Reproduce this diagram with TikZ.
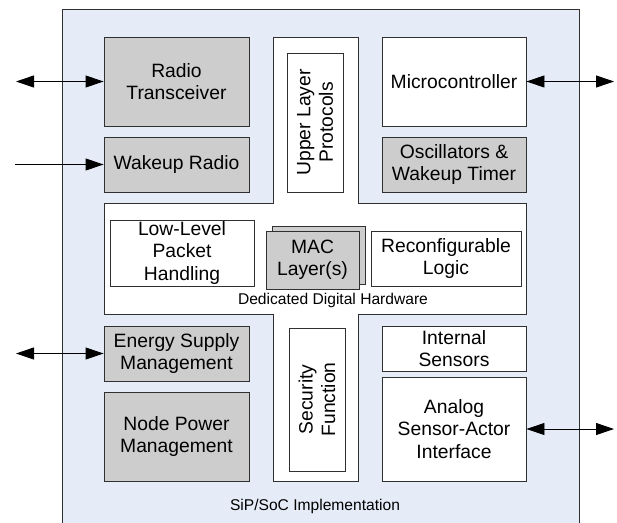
\documentclass[tikz,border=0pt]{standalone}
\usepackage{fontspec}
\setmainfont{Liberation Sans}
\usetikzlibrary{arrows.meta}
\definecolor{bgblue}{HTML}{E6ECF7}
\definecolor{boxgray}{HTML}{CDCDCD}
\definecolor{edge}{HTML}{303030}
\tikzset{
  blk/.style={draw=edge, line width=0.9pt, align=center, inner sep=0pt,
    font=\fontsize{19.3}{22.5}\selectfont, text=black},
  gblk/.style={blk, fill=boxgray},
  wblk/.style={blk, fill=white},
  rtxt/.style={rotate=90, align=center, inner sep=0pt, font=\fontsize{19.3}{22.5}\selectfont},
  lbl/.style={font=\fontsize{15.6}{18}\selectfont, inner sep=0pt},
  conn/.style={line width=0.9pt, draw=black},
  both/.style={conn, {Triangle[length=18pt, width=12pt]}-{Triangle[length=18pt, width=12pt]}},
  one/.style={conn, -{Triangle[length=18pt, width=12pt]}}
}
\begin{document}
\begin{tikzpicture}[x=1pt, y=-1pt]
\useasboundingbox (0,0) rectangle (617,522);
\clip (0,0) rectangle (617,522);
% outer SiP/SoC box
\draw[fill=bgblue, draw=edge, line width=0.9pt] (62,9) rectangle (579,540);
% cross-shaped digital hardware area
\draw[fill=white, draw=edge, line width=0.9pt]
  (273,37) -- (358,37) -- (358,203) -- (526,203) -- (526,314) -- (358,314)
  -- (358,481) -- (273,481) -- (273,314) -- (104,314) -- (104,203) -- (273,203) -- cycle;
% left column
\node[gblk, minimum width=145pt, minimum height=89pt] (rt) at (176.5,81.5) {Radio\\Transceiver};
\node[gblk, minimum width=145pt, minimum height=55pt] (wr) at (176.5,164.5) {Wakeup Radio};
\node[gblk, minimum width=145pt, minimum height=55pt] (esm) at (176.5,353.5) {Energy Supply\\Management};
\node[gblk, minimum width=145pt, minimum height=89pt] (npm) at (176.5,436.5) {Node Power\\Management};
% right column
\node[wblk, minimum width=144pt, minimum height=89pt] (mc) at (454,81.5) {Microcontroller};
\node[gblk, minimum width=144pt, minimum height=55pt] (osc) at (454,164.5) {Oscillators \&\\Wakeup Timer};
\node[wblk, minimum width=144pt, minimum height=45pt] (is) at (454,348.5) {Internal\\Sensors};
\node[wblk, minimum width=144pt, minimum height=104pt] (asa) at (454,429) {Analog\\Sensor-Actor\\Interface};
% center vertical
\node[wblk, minimum width=56pt, minimum height=139pt] (ulp) at (315,122.5) {};
\node[rtxt] (ulpt) at (ulp.center) {Upper Layer\\Protocols};
\node[wblk, minimum width=56pt, minimum height=143pt] (sf) at (317,399.5) {};
\node[rtxt] (sft) at (sf.center) {Security\\Function};
% horizontal bar
\node[wblk, minimum width=144pt, minimum height=66pt] (llp) at (182,253) {Low-Level\\Packet\\Handling};
\node[gblk, minimum width=93pt, minimum height=58pt] (macb) at (318.5,255) {};
\node[gblk, minimum width=93pt, minimum height=58pt] (mac) at (312.5,260) {MAC\\Layer(s)};
\node[wblk, minimum width=150pt, minimum height=55pt] (rl) at (446,258.5) {Reconfigurable\\Logic};
\node[lbl] (ddh) at (333,300) {Dedicated Digital Hardware};
\node[lbl] (sip) at (315,506) {SiP/SoC Implementation};
% external connectors
\coordinate (rtx) at (16,81.5);
\coordinate (wrx) at (15,164.5);
\coordinate (mcx) at (614,81.5);
\coordinate (esx) at (16,353.5);
\coordinate (asx) at (614,429);
\draw[both] (rtx) -- (rt.west);
\draw[one] (wrx) -- (wr.west);
\draw[both] (mc.east) -- (mcx);
\draw[both] (esx) -- (esm.west);
\draw[both] (asa.east) -- (asx);
\end{tikzpicture}
\end{document}
